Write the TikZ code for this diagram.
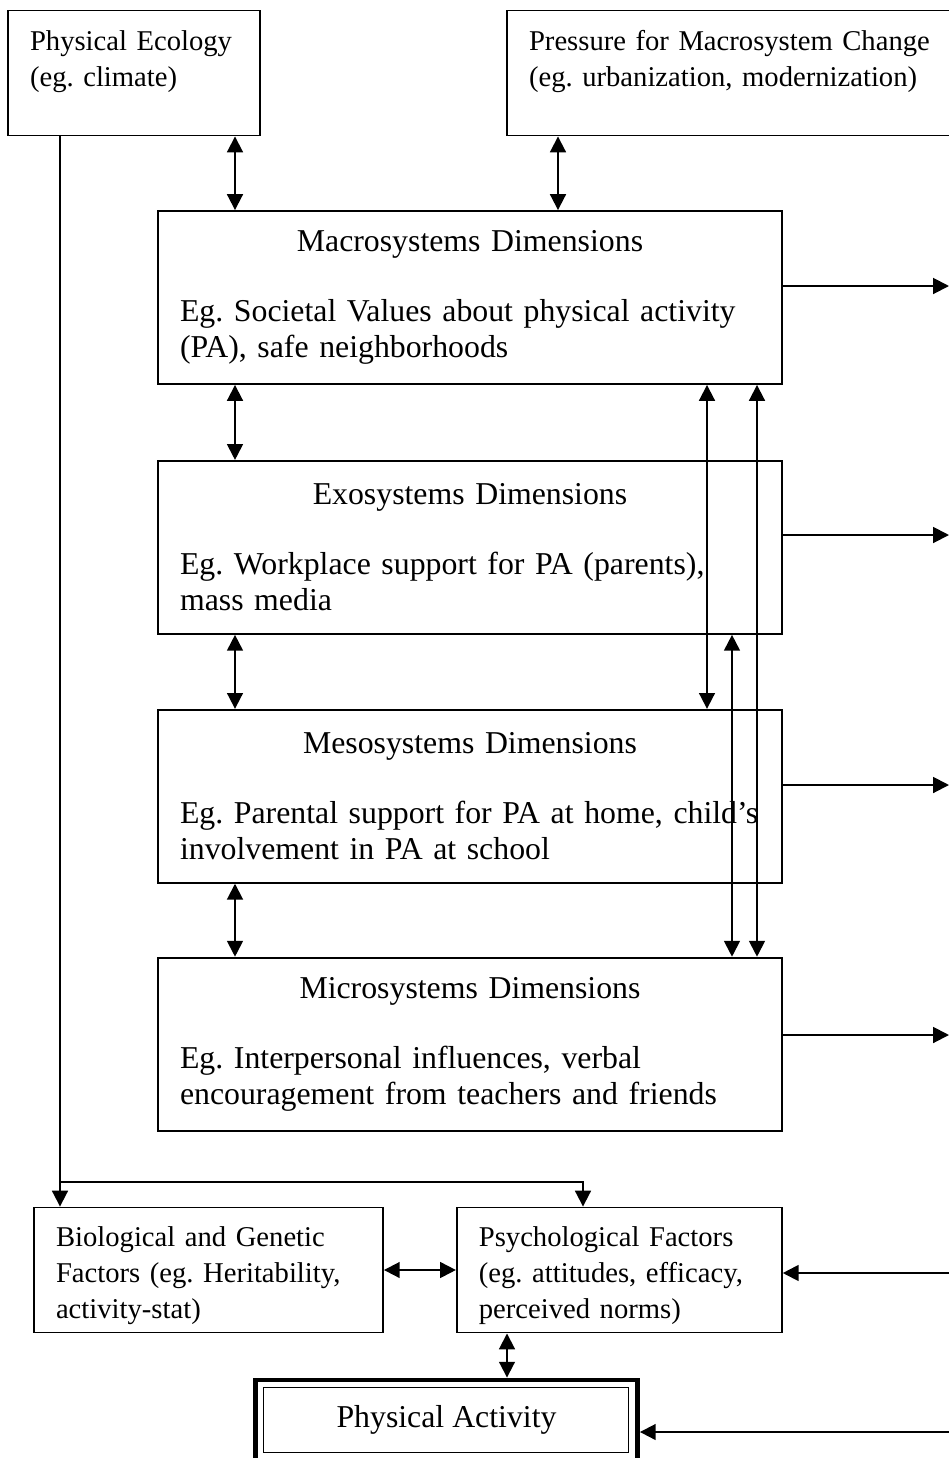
\documentclass[tikz,border=0pt]{standalone}
\usepackage{fontspec}
\setmainfont{Liberation Serif}
\frenchspacing
\usetikzlibrary{positioning,arrows.meta}

\begin{document}
\begin{tikzpicture}[
		x=0.02cm, y=-0.02cm,
		line width=1.1pt,
		>={Triangle[length=9pt,width=9pt]},
		sfont/.style={font=\fontsize{16.3}{20.4}\selectfont},
		lfont/.style={font=\fontsize{18.1}{20.4}\selectfont},
		smallbox/.style={
			draw,
			sfont,
			align=left,
			inner xsep=0.44cm,
			minimum height=2.5cm
		},
		dimbox/.style={
			draw,
			lfont,
			align=left,
			inner xsep=0.44cm,
			text width=11.6cm,
			minimum height=3.46cm
		},
		node distance=1.48cm
	]
	\clip (0,0) rectangle (949,1458);

	\node[smallbox,text width=4.16cm] at (134,73) (eco)
	{Physical Ecology\\(eg. climate)\\[-0.36cm]\strut};
	\node[smallbox,text width=8.32cm] at (737,73) (press)
	{Pressure for Macrosystem Change\\(eg. urbanization, modernization)\\[-0.36cm]\strut};

	\node[dimbox] at (470,297.5) (macro)
	{\makebox[\linewidth]{Macrosystems Dimensions}\\[0.68cm]
		\mbox{Eg. Societal Values about physical activity}\\(PA), safe neighborhoods};
	\node[dimbox,below=1.5cm of macro] (exo)
	{\makebox[\linewidth]{Exosystems Dimensions}\\[0.68cm]
		\mbox{Eg. Workplace support for PA (parents),}\\mass media};
	\node[dimbox,below=of exo] (meso)
	{\makebox[\linewidth]{Mesosystems Dimensions}\\[0.68cm]
		\mbox{Eg. Parental support for PA at home, child's}\\involvement in PA at school};
	\node[dimbox,below=1.46cm of meso] (micro)
	{\makebox[\linewidth]{Microsystems Dimensions}\\[0.68cm]
		\mbox{Eg. Interpersonal influences, verbal}\\\mbox{encouragement from teachers and friends}};

	\node[smallbox,text width=6.1cm] at (208.5,1270) (bio)
	{Biological and Genetic\\Factors (eg. Heritability,\\activity-stat)\\[-1.04cm]\strut};
	\node[smallbox,text width=5.62cm,right=1.44cm of bio] (psych)
	{Psychological Factors\\(eg. attitudes, efficacy,\\perceived norms)\\[-1.04cm]\strut};

	\node[draw,line width=2.8pt,lfont,minimum width=7.64cm,minimum height=1.6cm] at (446.5,1420) (pa)
	{Physical Activity};
	\draw[line width=0.6pt] ([shift={(10,9.5)}]pa.north west) rectangle ([shift={(-11,-9.5)}]pa.south east);

	\coordinate (lcol) at (235,0);
	\coordinate (pcol) at (558,0);
	\coordinate (va) at (707,0);
	\coordinate (vb) at (732,0);
	\coordinate (vc) at (757,0);
	\coordinate (ecoline) at (60,0);
	\coordinate (fork) at (583,1182);
	\coordinate (pacol) at (507,0);
	\coordinate (oa) at (949,286);
	\coordinate (ob) at (949,535);
	\coordinate (oc) at (949,785);
	\coordinate (od) at (949,1035);
	\coordinate (ia) at (960,1273);
	\coordinate (ib) at (960,1432);

	\draw[<->] (eco.south -| lcol) -- (macro.north -| lcol);
	\draw[<->] (press.south -| pcol) -- (macro.north -| pcol);
	\draw[<->] (macro.south -| lcol) -- (exo.north -| lcol);
	\draw[<->] (exo.south -| lcol) -- (meso.north -| lcol);
	\draw[<->] (meso.south -| lcol) -- (micro.north -| lcol);

	\draw[<->] (macro.south -| va) -- (meso.north -| va);
	\draw[<->] (exo.south -| vb) -- (micro.north -| vb);
	\draw[<->] (macro.south -| vc) -- (micro.north -| vc);

	\draw[->] (macro.east |- oa) -- (oa);
	\draw[->] (exo.east |- ob) -- (ob);
	\draw[->] (meso.east |- oc) -- (oc);
	\draw[->] (micro.east |- od) -- (od);

	\draw[->] (eco.south -| ecoline) -- (bio.north -| ecoline);
	\draw[->] (ecoline |- fork) -- (fork) -- (psych.north -| fork);

	\draw[<->] (bio) -- (psych);
	\draw[<->] (psych.south -| pacol) -- (pa.north -| pacol);
	\draw[->] (ia) -- (psych.east |- ia);
	\draw[->] (ib) -- (pa.east |- ib);
\end{tikzpicture}
\end{document}
